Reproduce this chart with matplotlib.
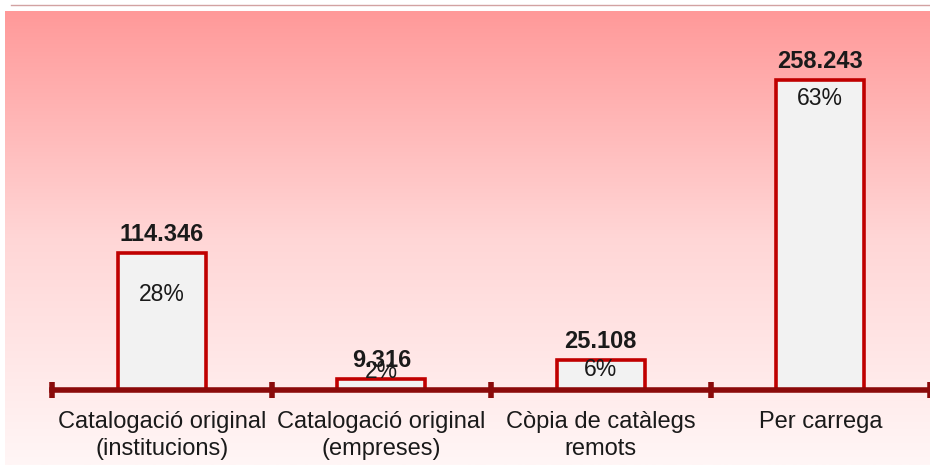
import matplotlib.pyplot as plt
import numpy as np
from matplotlib.lines import Line2D
from matplotlib.colors import LinearSegmentedColormap

categories = ['Catalogació original\n(institucions)', 'Catalogació original\n(empreses)',
              'Còpia de catàlegs\nremots', 'Per carrega']
values = [114346, 9316, 25108, 258243]
value_labels = ['114.346', '9.316', '25.108', '258.243']
pct_labels = ['28%', '2%', '6%', '63%']
# how far below the bar top each percent label sits (points)
pct_offsets = [-30, 5, -7, -13]

plt.rcParams['font.family'] = ['Liberation Sans', 'DejaVu Sans']

W, H = 930, 465
fig = plt.figure(figsize=(W / 100, H / 100), dpi=100)
fig.patch.set_facecolor('white')

# gradient panel
bg = fig.add_axes([5 / W, 0, 1 - 5 / W, (H - 11) / H])
cmap = LinearSegmentedColormap.from_list('bg', ['#fff6f6', '#ffd6d6', '#ff9999'])
grad = np.linspace(0, 1, 256).reshape(-1, 1)
bg.imshow(grad, aspect='auto', cmap=cmap, origin='lower', extent=[0, 1, 0, 1])
bg.axis('off')

fig.add_artist(Line2D([11 / W, 1], [1 - 5 / H, 1 - 5 / H], color='#d2a2a2', lw=1,
                      transform=fig.transFigure))

ax = fig.add_axes([52 / W, (H - 390) / H, (W - 52) / W, (390 - 11) / H])
ax.patch.set_alpha(0)
x = np.arange(len(values)) + 0.5
ax.bar(x, values, width=0.4, color='#f2f2f2', edgecolor='#c00000', linewidth=2.6, zorder=3)
ax.set_xlim(0, 4)
ax.set_ylim(0, 316000)

for xi, v, vl, pl, off in zip(x, values, value_labels, pct_labels, pct_offsets):
    ax.annotate(vl, (xi, v), xytext=(0, 5), textcoords='offset points', ha='center',
                va='bottom', fontsize=17, fontweight='bold', color='#1a1a1a', zorder=5)
    ax.annotate(pl, (xi, v), xytext=(0, off), textcoords='offset points', ha='center',
                va='center', fontsize=16.5, color='#1a1a1a', zorder=5)

for s in ['top', 'right', 'left']:
    ax.spines[s].set_visible(False)
ax.spines['bottom'].set_color('#8b0a0a')
ax.spines['bottom'].set_linewidth(4)
ax.spines['bottom'].set_zorder(4)
ax.set_yticks([])
ax.set_xticks(np.arange(5))
ax.set_xticklabels([])
ax.tick_params(axis='x', which='major', direction='inout', length=11, width=4, color='#8b0a0a')
ax.set_xticks(x, minor=True)
ax.set_xticklabels(categories, minor=True, fontsize=17, color='#1a1a1a', linespacing=1.3)
ax.tick_params(axis='x', which='minor', length=0, pad=15)

fig.savefig('out.png', dpi=100)
